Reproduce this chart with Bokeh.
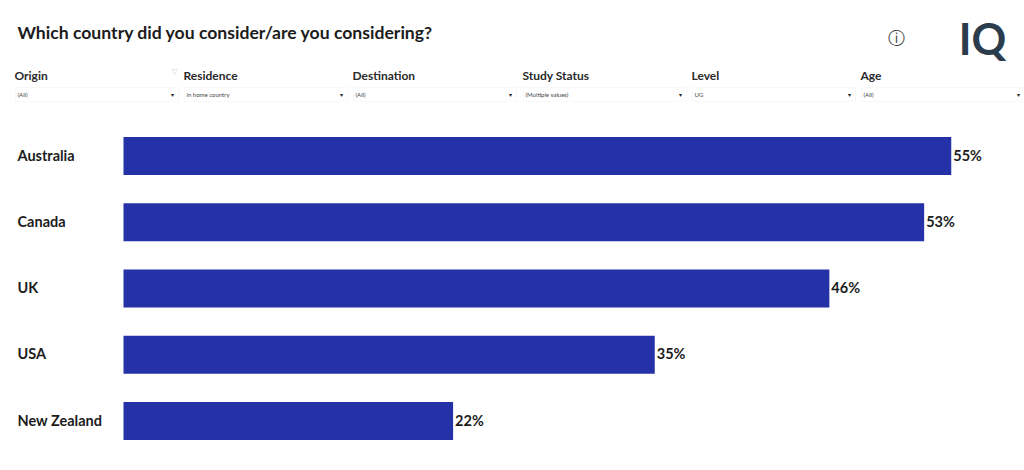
from bokeh.plotting import figure
from bokeh.models import Range1d, Label, BoxAnnotation
from bokeh.core.properties import value
from bokeh.embed import file_html
from bokeh.resources import INLINE

title_text = "Which country did you consider/are you considering?"
categories = ["Australia", "Canada", "UK", "USA", "New Zealand"]
shares = [55.0, 53.2, 46.9, 35.3, 21.9]
share_labels = ["55%", "53%", "46%", "35%", "22%"]
filter_names = ["Origin", "Residence", "Destination", "Study Status", "Level", "Age"]
filter_values = ["(All)", "in home country", "(All)", "(Multiple values)", "UG", "(All)"]

FONT = "Lato"
INK = "#1c1c1c"
W, H = 1024, 470
PX_PER_UNIT = 15.05
ZERO_PX = 123
X0 = -ZERO_PX / PX_PER_UNIT
ROW_PX = 66.25
FIRST_ROW_PX = 155.5
rows = list(range(len(categories)))

p = figure(width=W, height=H, output_backend="svg", toolbar_location=None,
           x_range=Range1d(X0, X0 + W / PX_PER_UNIT),
           y_range=Range1d((H - FIRST_ROW_PX) / ROW_PX, -FIRST_ROW_PX / ROW_PX),
           x_axis_location=None, y_axis_location=None,
           min_border=0, min_border_left=0, min_border_right=0, min_border_top=0, min_border_bottom=0)
p.outline_line_color = None
p.grid.visible = False

p.hbar(y=rows, right=shares, left=0, height=0.575, fill_color="#2531a7", line_color=None)
p.text(x=[X0] * len(categories), y=rows, text=categories, x_offset=17, y_offset=-1,
       text_font=value(FONT), text_font_style="bold", text_font_size="14.5px",
       text_color=INK, text_align="left", text_baseline="middle")
p.text(x=shares, y=rows, text=share_labels, x_offset=2, y_offset=-1,
       text_font=value(FONT), text_font_style="bold", text_font_size="14.5px",
       text_color=INK, text_align="left", text_baseline="middle")


def label(x, y, text, size, color=INK, style="normal", font=FONT, align="left"):
    p.add_layout(Label(x=x, y=H - y, x_units="screen", y_units="screen", text=text,
                       text_font=font, text_font_size=f"{size}px", text_font_style=style,
                       text_color=color, text_align=align, text_baseline="middle"))


label(17, 32, title_text, 17.6, style="bold")

box_left = [15, 184, 353, 523, 692, 861]
box_width = 163
for name, val, bl in zip(filter_names, filter_values, box_left):
    label(bl - 1, 75, name, 12, style="bold", color="#2a2a2a")
    p.add_layout(BoxAnnotation(left=bl, right=bl + box_width, top=H - 87, bottom=H - 101,
                               left_units="screen", right_units="screen",
                               top_units="screen", bottom_units="screen",
                               fill_color="white", fill_alpha=1,
                               line_color="#e8e8e8", line_width=1))
    label(bl + 2, 94, val, 6, color="#444444")
    label(bl + box_width - 6, 94, "\u25be", 6, color="#222222", font="DejaVu Sans", align="center")

label(174, 71, "\u25bd", 8, color="#d8d8d8", font="DejaVu Sans", align="center")
label(896, 37, "\u24d8", 17, color="#3a3a3a", font="DejaVu Sans", align="center")
label(982, 38, "IQ", 43, color="#2b3d4d", style="bold", font=FONT, align="center")

open("out.html", "w").write(file_html(p, INLINE))
